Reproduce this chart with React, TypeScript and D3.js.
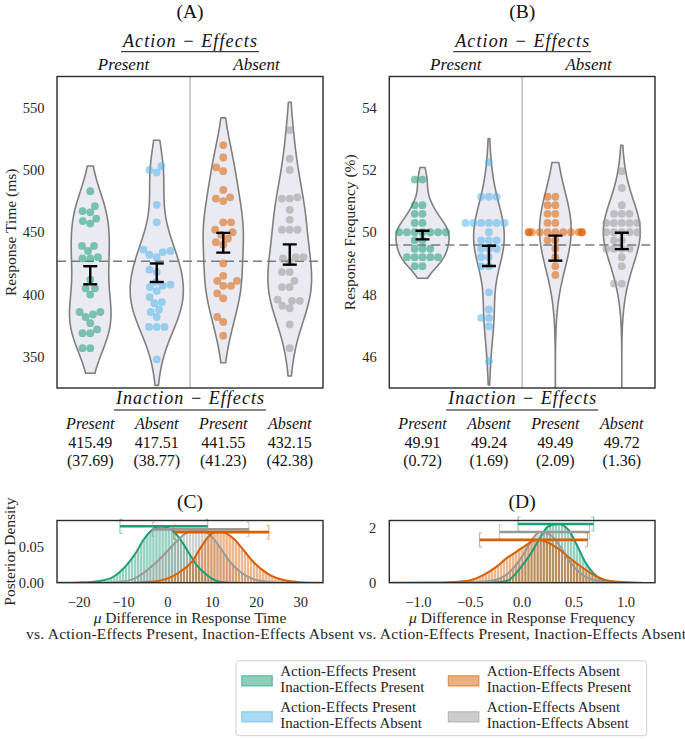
import React from "react";
import * as d3 from "d3";

const W = 685, H = 739;
const FONT = "'Liberation Serif', 'DejaVu Serif', serif";

// ---------- categories ----------
const groupColors = ["#1b9e77", "#56b4e9", "#d95f02", "#999999"];
const ieLabels = ["Present", "Absent", "Present", "Absent"];
const aeLabels = ["Present", "Absent"];
const legendLines = [
  ["Action-Effects Present", "Inaction-Effects Present"],
  ["Action-Effects Present", "Inaction-Effects Absent"],
  ["Action-Effects Absent", "Inaction-Effects Present"],
  ["Action-Effects Absent", "Inaction-Effects Absent"],
];

// ---------- panel A: response time per participant (ms) ----------
const rtPP = [483, 471, 467, 466, 461, 459, 457, 439, 439, 435, 430, 429, 429, 412, 405, 405, 400, 386, 386, 384, 382, 377, 372, 369, 369, 357, 357];
const rtPA = [503, 500, 498, 472, 458, 436, 435, 434, 432, 430, 420, 418, 410, 408, 407, 406, 403, 398, 394, 393, 388, 386, 382, 374, 374, 374, 348];
const rtAP = [520, 510, 502, 499, 484, 478, 477, 475, 458, 458, 452, 450, 448, 445, 442, 440, 425, 415, 411, 411, 407, 407, 401, 397, 382, 378, 367];
const rtAA = [532, 509, 500, 478, 477, 477, 468, 460, 452, 452, 452, 430, 430, 429, 426, 418, 418, 411, 406, 406, 396, 395, 395, 391, 389, 376, 357];
const rtMeans = [415.49, 417.51, 441.55, 432.15];
const rtSDs = [37.69, 38.77, 41.23, 42.38];
const rtTicks = [350, 400, 450, 500, 550];

// ---------- panel B: response frequency per participant (%) ----------
const rfPP = [51.69, 51.69, 50.87, 50.87, 50.59, 50.59, 50.3, 50.3, 50, 50, 50, 50, 50, 50, 50, 49.74, 49.74, 49.47, 49.47, 49.47, 49.2, 49.2, 49.2, 49.2, 49.2, 48.91, 48.91];
const rfPA = [52.25, 51.14, 51.14, 51.14, 50.3, 50.3, 50.3, 50.3, 50.3, 50.3, 50, 49.74, 49.74, 49.74, 49.47, 49.47, 49.47, 49.2, 49.2, 48.91, 48.91, 48.07, 47.52, 47.25, 47.25, 46.98, 45.86];
const rfAP = [51.14, 51.14, 50.87, 50.87, 50.59, 50.59, 50.3, 50.3, 50, 50, 50, 50, 50, 50, 50, 50, 50, 50, 50, 49.74, 49.74, 49.47, 49.2, 48.91, 48.63, 42.4, 42.4];
const rfAA = [51.96, 51.42, 50.87, 50.59, 50.59, 50.59, 50.3, 50.3, 50.3, 50.3, 50.3, 50, 50, 50, 50, 50, 49.74, 49.74, 49.47, 49.47, 49.47, 49.47, 49.2, 48.91, 48.35, 48.35, 42.75];
const rfMeans = [49.91, 49.24, 49.49, 49.72];
const rfSDs = [0.72, 1.69, 2.09, 1.36];
const rfTicks = [46, 48, 50, 52, 54];
const nParticipants = 27;

// ---------- panel C / D: posterior densities of mu difference [x, density] ----------
const rtPostGreen: [number, number][] = [[-25, 0], [-20, 0.0004], [-17.5, 0.001], [-15.4, 0.0024], [-12.3, 0.0083], [-9.3, 0.0246], [-7.1, 0.043], [-5.6, 0.059], [-3.7, 0.073], [-1.9, 0.079], [0.5, 0.0755], [2.7, 0.0617], [4.6, 0.043], [6.5, 0.0246], [8.8, 0.0107], [11, 0.0024], [13.3, 0.0004], [16, 0]];
const rtPostGray: [number, number][] = [[-15, 0], [-10.5, 0.0015], [-7.8, 0.005], [-5.6, 0.013], [-3.3, 0.0246], [-0.3, 0.043], [2.0, 0.058], [4.25, 0.07], [6.5, 0.0746], [8.4, 0.0718], [10.3, 0.0617], [12.2, 0.0454], [14.05, 0.029], [16.3, 0.0153], [19.3, 0.005], [22.4, 0.0015], [26, 0.0003], [30, 0]];
const rtPostOrange: [number, number][] = [[-8, 0], [-2.5, 0.002], [0, 0.006], [2.7, 0.015], [5.4, 0.029], [7.3, 0.048], [8.8, 0.0617], [10.3, 0.07], [11.8, 0.0708], [13.3, 0.0686], [14.8, 0.0617], [17.1, 0.0454], [19.3, 0.029], [22.4, 0.013], [26.1, 0.0037], [29.9, 0.0007], [35, 0]];
const rtHdi = [[-10.8, 9.0], [-3.5, 18.3], [1.3, 22.8]]; // green, gray, orange
const rfPostGreen: [number, number][] = [[-0.6, 0], [-0.3, 0.01], [-0.15, 0.06], [-0.02, 0.53], [0.075, 1.02], [0.17, 1.63], [0.25, 2.06], [0.348, 2.15], [0.445, 1.94], [0.526, 1.39], [0.606, 0.77], [0.686, 0.35], [0.78, 0.1], [0.91, 0.02], [1.1, 0]];
const rfPostGray: [number, number][] = [[-0.7, 0], [-0.45, 0.02], [-0.31, 0.06], [-0.18, 0.22], [-0.086, 0.53], [0.01, 1.02], [0.092, 1.57], [0.17, 1.86], [0.268, 1.76], [0.365, 1.33], [0.46, 0.77], [0.56, 0.35], [0.686, 0.1], [0.82, 0.02], [1.0, 0]];
const rfPostOrange: [number, number][] = [[-1.28, 0], [-0.95, 0.005], [-0.79, 0.01], [-0.54, 0.06], [-0.375, 0.28], [-0.246, 0.59], [-0.15, 0.9], [-0.053, 1.14], [0.043, 1.39], [0.14, 1.57], [0.237, 1.49], [0.333, 1.29], [0.46, 0.9], [0.59, 0.53], [0.72, 0.22], [0.85, 0.06], [1.0, 0.02], [1.15, 0]];
const rfHdi = [[-0.04, 0.69], [-0.22, 0.65], [-0.41, 0.63]];
const rtDiffTicks = [-20, -10, 0, 10, 20, 30];
const rfDiffTicks = [-1, -0.5, 0, 0.5, 1];
const rtDensTicks = [0, 0.05];
const rfDensTicks = [0, 2];
const postColors = ["#1b9e77", "#999999", "#d95f02"];

// ---------- helpers ----------
function kde(data: number[]): [number, number][] {
  const n = data.length;
  const sd = d3.deviation(data)!;
  const bw = sd * Math.pow(n, -0.2);
  const lo = d3.min(data)! - bw, hi = d3.max(data)! + bw;
  const N = 220;
  const out: [number, number][] = [];
  for (let i = 0; i <= N; i++) {
    const v = lo + ((hi - lo) * i) / N;
    let s = 0;
    for (const d of data) { const z = (v - d) / bw; s += Math.exp(-0.5 * z * z); }
    out.push([v, s / (n * bw * Math.sqrt(2 * Math.PI))]);
  }
  return out;
}

function swarm(ys: number[], r: number, maxHalf: number): number[] {
  const d = 2 * r;
  const order = ys.map((_, i) => i).sort((a, b) => ys[b] - ys[a]);
  const placed: { x: number; y: number }[] = [];
  const xs = new Array(ys.length).fill(0);
  for (const i of order) {
    const y = ys[i];
    const nb = placed.filter((p) => Math.abs(p.y - y) < d);
    const cands: number[] = [0];
    let leftFirst = true;
    for (const p of nb) {
      const dx = Math.sqrt(Math.max(d * d - (p.y - y) ** 2, 0.05));
      if (leftFirst) cands.push(p.x - dx, p.x + dx); else cands.push(p.x + dx, p.x - dx);
      leftFirst = !leftFirst;
    }
    const sorted = cands.map((c, k) => ({ c, k })).sort((a, b) => Math.abs(a.c) - Math.abs(b.c) || a.k - b.k).map((o) => o.c);
    let chosen = sorted[sorted.length - 1];
    for (const c of sorted) {
      if (nb.every((p) => (p.x - c) ** 2 + (p.y - y) ** 2 >= d * d - 1e-6)) { chosen = c; break; }
    }
    placed.push({ x: chosen, y });
    xs[i] = chosen;
  }
  return xs.map((x) => Math.max(-maxHalf, Math.min(maxHalf, x)));
}

type Frame = { x0: number; x1: number; y0: number; y1: number };

const frameA: Frame = { x0: 57, x1: 323, y0: 76.5, y1: 388 };
const frameB: Frame = { x0: 389.3, x1: 655, y0: 76.5, y1: 388 };
const frameC: Frame = { x0: 57, x1: 323, y0: 520.5, y1: 582.7 };
const frameD: Frame = { x0: 389.3, x1: 655, y0: 520.5, y1: 582.7 };

const TXT = "#262626";
const tstyle = { fontFamily: FONT };
const istyle = { fontFamily: FONT, fontStyle: "italic" as const };

function fmtNum(v: number, digits: number) {
  const s = v.toFixed(digits);
  return v < 0 ? "\u2212" + s.slice(1) : s;
}

function ViolinPanel(props: {
  id: string; frame: Frame; domain: [number, number]; ticks: number[]; groups: number[][];
  means: number[]; sds: number[]; yLabel: string; yLabelX: number; title: string; digits: number;
}) {
  const { id, frame, domain, ticks, groups, means, sds, yLabel, yLabelX, title, digits } = props;
  const y = d3.scaleLinear().domain(domain).range([frame.y1, frame.y0]);
  const x = d3.scaleBand<number>().domain(d3.range(groups.length)).range([frame.x0, frame.x1]);
  const bw = x.bandwidth();
  const half = bw * 0.4;
  const kdes = groups.map((g) => kde(g));
  const maxD = d3.max(kdes, (k) => d3.max(k, (p) => p[1]))!;
  const cxs = d3.range(groups.length).map((i) => x(i)! + bw / 2);
  const grand = d3.mean(means)!;
  const mid = (frame.x0 + frame.x1) / 2;
  const r = 3.9;
  return (
    <g>
      <defs>
        <clipPath id={"clip" + id}>
          <rect x={frame.x0} y={frame.y0} width={frame.x1 - frame.x0} height={frame.y1 - frame.y0} />
        </clipPath>
      </defs>
      <g clipPath={`url(#clip${id})`}>
        <line x1={mid} x2={mid} y1={frame.y0} y2={frame.y1} stroke="#bdbdbd" strokeWidth={1.5} />
        {kdes.map((k, i) => {
          const area = d3.area<[number, number]>()
            .y((p) => y(p[0]))
            .x0((p) => cxs[i] - (p[1] / maxD) * half)
            .x1((p) => cxs[i] + (p[1] / maxD) * half);
          return <path key={i} d={area(k)!} fill="#eaeaf2" stroke="#7f7f7f" strokeWidth={1.6} strokeLinejoin="round" />;
        })}
        <line x1={frame.x0} x2={frame.x1} y1={y(grand)} y2={y(grand)} stroke="#7a7a7a" strokeWidth={1.5} strokeDasharray="9,5" />
        {groups.map((g, i) => {
          const ys = g.map((v) => y(v));
          const xs = swarm(ys, r, half);
          return (
            <g key={i}>
              {ys.map((yy, j) => (
                <circle key={j} cx={cxs[i] + xs[j]} cy={yy} r={r} fill={groupColors[i]} fillOpacity={0.55} />
              ))}
            </g>
          );
        })}
        {means.map((m, i) => {
          const se = sds[i] / Math.sqrt(nParticipants);
          const yt = y(m + se), yb = y(m - se), c = cxs[i];
          return (
            <g key={i} stroke="#000" strokeWidth={2.4}>
              <line x1={c} x2={c} y1={yt} y2={yb} />
              <line x1={c - 7} x2={c + 7} y1={yt} y2={yt} />
              <line x1={c - 7} x2={c + 7} y1={yb} y2={yb} />
            </g>
          );
        })}
      </g>
      <rect x={frame.x0} y={frame.y0} width={frame.x1 - frame.x0} height={frame.y1 - frame.y0} fill="none" stroke="#2b2b2b" strokeWidth={1.4} />
      {ticks.map((t) => (
        <text key={t} x={frame.x0 - 12.5} y={y(t)} dy="0.35em" textAnchor="end" fontSize={14.5} fill={TXT} style={tstyle}>{t}</text>
      ))}
      <text transform={`translate(${yLabelX},${(frame.y0 + frame.y1) / 2}) rotate(-90)`} textAnchor="middle" fontSize={15.5} fill={TXT} style={tstyle}>{yLabel}</text>
      {/* header */}
      <text x={mid} y={18.2} textAnchor="middle" fontSize={19.5} fill="#111" style={tstyle}>{title}</text>
      <text x={mid} y={46.5} textAnchor="middle" fontSize={18} fill="#111" style={istyle} textLength={134} lengthAdjust="spacing">Action − Effects</text>
      <line x1={mid - 69} x2={mid + 69} y1={51.7} y2={51.7} stroke="#111" strokeWidth={1} />
      {aeLabels.map((l, k) => (
        <text key={l} x={k === 0 ? (frame.x0 + mid) / 2 : (mid + frame.x1) / 2} y={69.5} textAnchor="middle" fontSize={17} fill="#111" style={istyle}>{l}</text>
      ))}
      {/* footer table */}
      <text x={mid} y={403.5} textAnchor="middle" fontSize={18} fill="#111" style={istyle} textLength={148} lengthAdjust="spacing">Inaction − Effects</text>
      <line x1={mid - 76} x2={mid + 76} y1={410} y2={410} stroke="#111" strokeWidth={1} />
      {ieLabels.map((l, i) => (
        <text key={"l" + i} x={cxs[i]} y={429} textAnchor="middle" fontSize={16} fill="#111" style={istyle}>{l}</text>
      ))}
      {means.map((m, i) => (
        <text key={"m" + i} x={cxs[i]} y={447.5} textAnchor="middle" fontSize={16} fill="#111" style={tstyle}>{m.toFixed(digits)}</text>
      ))}
      {sds.map((s, i) => (
        <text key={"s" + i} x={cxs[i]} y={466} textAnchor="middle" fontSize={16} fill="#111" style={tstyle}>({s.toFixed(2)})</text>
      ))}
    </g>
  );
}

function PosteriorPanel(props: {
  id: string; frame: Frame; xDomain: [number, number]; yDomain: [number, number]; xTicks: number[]; yTicks: number[];
  xDigits: number; yDigits: number; series: [number, number][][]; hdis: number[][]; title: string; xLabel: string; yLabel?: string;
}) {
  const { id, frame, xDomain, yDomain, xTicks, yTicks, xDigits, yDigits, series, hdis, title, xLabel, yLabel } = props;
  const x = d3.scaleLinear().domain(xDomain).range([frame.x0, frame.x1]);
  const y = d3.scaleLinear().domain(yDomain).range([frame.y1, frame.y0]);
  const area = d3.area<[number, number]>().x((p) => x(p[0])).y0(y(0)).y1((p) => y(p[1])).curve(d3.curveMonotoneX);
  const line = d3.line<[number, number]>().x((p) => x(p[0])).y((p) => y(p[1])).curve(d3.curveMonotoneX);
  const mid = (frame.x0 + frame.x1) / 2;
  return (
    <g>
      <defs>
        <clipPath id={"clip" + id}>
          <rect x={frame.x0} y={frame.y0 - 20} width={frame.x1 - frame.x0} height={frame.y1 - frame.y0 + 20} />
        </clipPath>
        <pattern id={"stripes" + id} patternUnits="userSpaceOnUse" x={frame.x0} width={3.05} height={10}>
          <rect x={0} y={0} width={0.75} height={10} fill="#ffffff" fillOpacity={0.8} />
        </pattern>
      </defs>
      <g clipPath={`url(#clip${id})`}>
        {series.map((s, i) => (
          <g key={"a" + i}>
            <path d={area(s)!} fill={postColors[i]} fillOpacity={0.45} />
            <path d={area(s)!} fill={`url(#stripes${id})`} />
          </g>
        ))}
        {series.map((s, i) => (
          <path key={"l" + i} d={line(s)!} fill="none" stroke={postColors[i]} strokeWidth={2} />
        ))}
        {hdis.map((h, i) => {
          const peak = d3.max(series[i], (p) => p[1])!;
          const yy = y(peak), xa = x(h[0]), xb = x(h[1]);
          return (
            <g key={"h" + i}>
              <line x1={xa} x2={xb} y1={yy} y2={yy} stroke={postColors[i]} strokeWidth={2.6} />
              <path d={`M${xa + 2.5},${yy - 7}H${xa}V${yy + 7}H${xa + 2.5}M${xb - 2.5},${yy - 7}H${xb}V${yy + 7}H${xb - 2.5}`} fill="none" stroke={postColors[i]} strokeOpacity={0.6} strokeWidth={1} />
            </g>
          );
        })}
      </g>
      <rect x={frame.x0} y={frame.y0} width={frame.x1 - frame.x0} height={frame.y1 - frame.y0} fill="none" stroke="#2b2b2b" strokeWidth={1.4} />
      {xTicks.map((t) => (
        <text key={t} x={x(t)} y={606.5} textAnchor="middle" fontSize={14.5} fill={TXT} style={tstyle}>{fmtNum(t, xDigits)}</text>
      ))}
      {yTicks.map((t) => (
        <text key={t} x={frame.x0 - 13} y={y(t)} dy="0.35em" textAnchor="end" fontSize={14.5} fill={TXT} style={tstyle}>{fmtNum(t, yDigits)}</text>
      ))}
      <text x={mid} y={508} textAnchor="middle" fontSize={19.5} fill="#111" style={tstyle}>{title}</text>
      <text x={mid} y={623} textAnchor="middle" fontSize={15.5} fill={TXT} style={tstyle}>
        <tspan fontStyle="italic">μ</tspan> Difference in {xLabel}
      </text>
      <text x={mid} y={639} textAnchor="middle" fontSize={15.5} fill={TXT} style={tstyle} textLength={328} lengthAdjust="spacing">vs. Action-Effects Present, Inaction-Effects Absent</text>
      {yLabel && (
        <text transform={`translate(14.5,${(frame.y0 + frame.y1) / 2}) rotate(-90)`} textAnchor="middle" fontSize={15.5} fill={TXT} style={tstyle}>{yLabel}</text>
      )}
    </g>
  );
}

function Legend() {
  const bx = 236, by = 660.7, bw = 410.7, bh = 75;
  const cols = [241.7, 448.3];
  const rows = [675.7, 711.7];
  const order = [[0, 0], [0, 1], [1, 0], [1, 1]]; // [col,row] for each group
  return (
    <g>
      <rect x={bx} y={by} width={bw} height={bh} rx={3.5} fill="#fff" stroke="#cfcfcf" strokeWidth={1} />
      {order.map(([c, r], i) => (
        <g key={i}>
          <rect x={cols[c]} y={rows[r]} width={30.6} height={10.3} fill={groupColors[i]} fillOpacity={0.5} stroke={groupColors[i]} strokeOpacity={0.55} strokeWidth={1.2} />
          <text x={cols[c] + 38.5} y={rows[r] + 0.6} fontSize={15} fill={TXT} style={tstyle}>{legendLines[i][0]}</text>
          <text x={cols[c] + 38.5} y={rows[r] + 16} fontSize={15} fill={TXT} style={tstyle}>{legendLines[i][1]}</text>
        </g>
      ))}
    </g>
  );
}

export default function App() {
  return (
    <svg width={W} height={H} viewBox={`0 0 ${W} ${H}`} style={{ position: "absolute", left: 0, top: 0, background: "#fff", fontFamily: FONT }}>
      <rect x={0} y={0} width={W} height={H} fill="#fff" />
      <ViolinPanel id="A" frame={frameA} domain={[325, 575]} ticks={rtTicks} groups={[rtPP, rtPA, rtAP, rtAA]}
        means={rtMeans} sds={rtSDs} yLabel="Response Time (ms)" yLabelX={15.5} title="(A)" digits={2} />
      <ViolinPanel id="B" frame={frameB} domain={[45, 55]} ticks={rfTicks} groups={[rfPP, rfPA, rfAP, rfAA]}
        means={rfMeans} sds={rfSDs} yLabel="Response Frequency (%)" yLabelX={354.5} title="(B)" digits={2} />
      <PosteriorPanel id="C" frame={frameC} xDomain={[-25, 35]} yDomain={[0, 0.087]} xTicks={rtDiffTicks} yTicks={rtDensTicks}
        xDigits={0} yDigits={2} series={[rtPostGreen, rtPostGray, rtPostOrange]} hdis={rtHdi} title="(C)"
        xLabel="Response Time" yLabel="Posterior Density" />
      <PosteriorPanel id="D" frame={frameD} xDomain={[-1.28, 1.28]} yDomain={[0, 2.28]} xTicks={rfDiffTicks} yTicks={rfDensTicks}
        xDigits={1} yDigits={0} series={[rfPostGreen, rfPostGray, rfPostOrange]} hdis={rfHdi} title="(D)"
        xLabel="Response Frequency" />
      <Legend />
    </svg>
  );
}
